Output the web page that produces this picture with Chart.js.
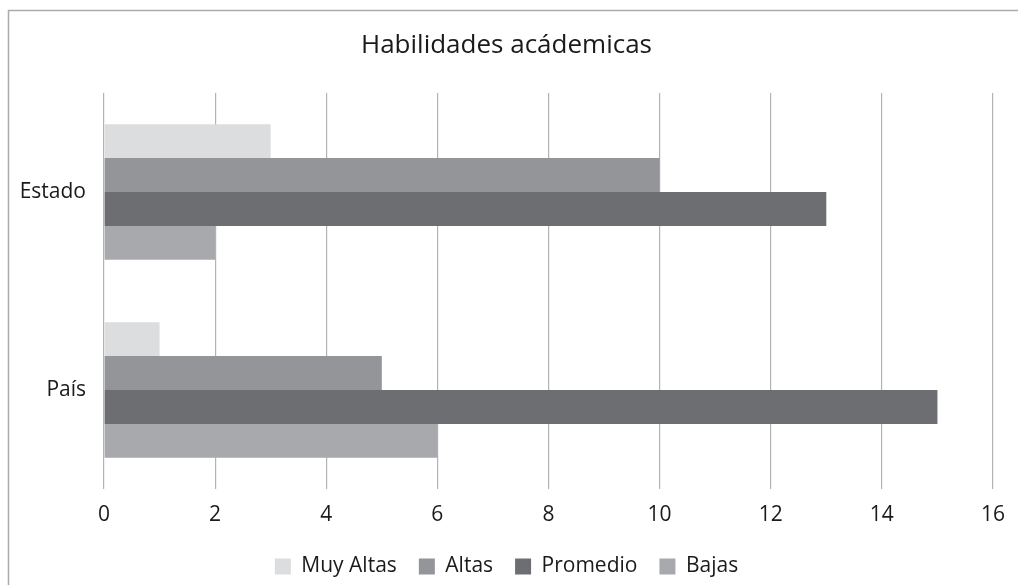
<!DOCTYPE html>
<html>
<head>
<meta charset="utf-8">
<script src="https://cdn.jsdelivr.net/npm/chart.js@4"></script>
<style>
  html, body { margin: 0; padding: 0; background: #fff; }
  #wrap { width: 1018px; height: 585px; }
</style>
</head>
<body>
<div id="wrap"><canvas id="chart"></canvas></div>
<script>
const categories = ['Estado', 'País'];
const muyAltas = [3, 1];
const altas = [10, 5];
const promedio = [13, 15];
const bajas = [2, 6];

// thin frame on the left and top edges, like the source picture
const frame = {
  id: 'frame',
  beforeDraw(chart) {
    const ctx = chart.ctx;
    ctx.save();
    ctx.strokeStyle = '#ababab';
    ctx.lineWidth = 1.5;
    ctx.beginPath();
    ctx.moveTo(8.5, chart.height);
    ctx.lineTo(8.5, 10.5);
    ctx.lineTo(chart.width, 10.5);
    ctx.stroke();
    ctx.restore();
  }
};

Chart.defaults.font.family = '"Open Sans", "Noto Sans", sans-serif';
Chart.defaults.color = '#1a1a1a';

new Chart(document.getElementById('chart'), {
  type: 'bar',
  plugins: [frame],
  data: {
    labels: categories,
    datasets: [
      { label: 'Muy Altas', data: muyAltas, backgroundColor: '#dcdddf' },
      { label: 'Altas', data: altas, backgroundColor: '#939598' },
      { label: 'Promedio', data: promedio, backgroundColor: '#6d6e71' },
      { label: 'Bajas', data: bajas, backgroundColor: '#a7a9ac' }
    ]
  },
  options: {
    indexAxis: 'y',
    responsive: true,
    maintainAspectRatio: false,
    animation: false,
    layout: { padding: { left: 14, right: 19, top: 0, bottom: -2 } },
    datasets: {
      bar: { categoryPercentage: 0.685, barPercentage: 1.0 }
    },
    scales: {
      x: {
        min: 0,
        max: 16,
        ticks: { stepSize: 2, padding: 13, font: { size: 21 } },
        grid: { color: '#b3b3b3', lineWidth: 1.2, drawTicks: false },
        border: { display: false },
        afterFit(scale) { scale.height = 45; }
      },
      y: {
        ticks: { padding: 18, font: { size: 21 } },
        grid: { display: false, drawTicks: false },
        border: { display: false },
        afterFit(scale) { scale.width = 90; }
      }
    },
    plugins: {
      title: {
        display: true,
        text: 'Habilidades acádemicas',
        font: { size: 26, weight: 'normal' },
        padding: { top: 29.5, bottom: 32.3 }
      },
      legend: {
        position: 'bottom',
        labels: {
          boxWidth: 16,
          boxHeight: 16,
          padding: 22,
          font: { size: 21 }
        }
      },
      tooltip: { enabled: false }
    }
  }
});
</script>
</body>
</html>
